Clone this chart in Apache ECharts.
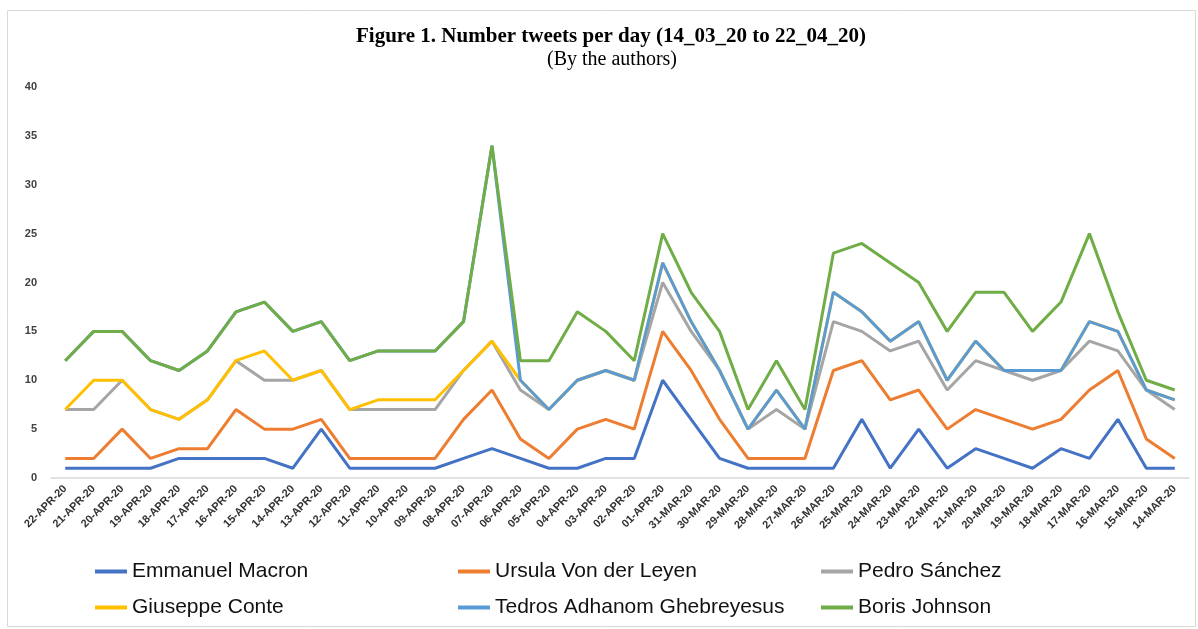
<!DOCTYPE html>
<html>
<head>
<meta charset="utf-8">
<script src="https://cdn.jsdelivr.net/npm/echarts@6/dist/echarts.min.js"></script>
<style>
  html, body { margin: 0; padding: 0; background: #fff; }
  #main { width: 1198px; height: 629px; }
</style>
</head>
<body>
<div id="main"></div>
<script>
// days, newest first (as in the figure)
var days = ['22-APR-20', '21-APR-20', '20-APR-20', '19-APR-20', '18-APR-20', '17-APR-20', '16-APR-20', '15-APR-20',
  '14-APR-20', '13-APR-20', '12-APR-20', '11-APR-20', '10-APR-20', '09-APR-20', '08-APR-20', '07-APR-20',
  '06-APR-20', '05-APR-20', '04-APR-20', '03-APR-20', '02-APR-20', '01-APR-20', '31-MAR-20', '30-MAR-20',
  '29-MAR-20', '28-MAR-20', '27-MAR-20', '26-MAR-20', '25-MAR-20', '24-MAR-20', '23-MAR-20', '22-MAR-20',
  '21-MAR-20', '20-MAR-20', '19-MAR-20', '18-MAR-20', '17-MAR-20', '16-MAR-20', '15-MAR-20', '14-MAR-20']

var macron = [1, 1, 1, 1, 2, 2, 2, 2, 1, 5, 1, 1, 1, 1, 2, 3, 2, 1, 1, 2, 2, 10, 6, 2, 1, 1, 1, 1, 6, 1, 5, 1, 3, 2, 1, 3, 2, 6, 1, 1]
var ursula = [2, 2, 5, 2, 3, 3, 7, 5, 5, 6, 2, 2, 2, 2, 6, 9, 4, 2, 5, 6, 5, 15, 11, 6, 2, 2, 2, 11, 12, 8, 9, 5, 7, 6, 5, 6, 9, 11, 4, 2]
var pedro = [7, 7, 10, 7, 6, 8, 12, 10, 10, 11, 7, 7, 7, 7, 11, 14, 9, 7, 10, 11, 10, 20, 15, 11, 5, 7, 5, 16, 15, 13, 14, 9, 12, 11, 10, 11, 14, 13, 9, 7]
var conte = [7, 10, 10, 7, 6, 8, 12, 13, 10, 11, 7, 8, 8, 8, 11, 14, 10, 7, 10, 11, 10, 22, 16, 11, 5, 9, 5, 19, 17, 14, 16, 10, 14, 11, 11, 11, 16, 15, 9, 8]
var tedros = [12, 15, 15, 12, 11, 13, 17, 18, 15, 16, 12, 13, 13, 13, 16, 34, 10, 7, 10, 11, 10, 22, 16, 11, 5, 9, 5, 19, 17, 14, 16, 10, 14, 11, 11, 11, 16, 15, 9, 8]
var boris = [12, 15, 15, 12, 11, 13, 17, 18, 15, 16, 12, 13, 13, 13, 16, 34, 12, 12, 17, 15, 12, 25, 19, 15, 7, 12, 7, 23, 24, 22, 20, 15, 19, 19, 15, 18, 25, 17, 10, 9]

var names = ['Emmanuel Macron', 'Ursula Von der Leyen', 'Pedro Sánchez', 'Giuseppe Conte', 'Tedros Adhanom Ghebreyesus', 'Boris Johnson']
var colors = ['#4472C4', '#ED7D31', '#A5A5A5', '#FFC000', '#5B9BD5', '#70AD47']
var values = [macron, ursula, pedro, conte, tedros, boris]

var chart = echarts.init(document.getElementById('main'))

// one legend per entry, laid out in a 3 x 2 grid like the original
var legendPos = [[90, 556], [453, 556], [816, 556], [90, 592], [453, 592], [816, 592]]
var legends = names.map(function (n, i) {
  return {
    data: [n],
    left: legendPos[i][0],
    top: legendPos[i][1],
    itemWidth: 32,
    itemHeight: 4,
    itemGap: 4,
    icon: 'rect',
    textStyle: { fontFamily: 'Liberation Sans Narrow, Liberation Sans', fontSize: 21, color: '#111' }
  }
})

var option = {
  backgroundColor: '#fff',
  animation: false,
  color: colors,
  title: [
    {
      text: 'Figure 1. Number tweets per day (14_03_20 to 22_04_20)',
      left: 606,
      top: 21,
      textAlign: 'center',
      textStyle: { fontFamily: 'Liberation Serif', fontWeight: 'bold', fontSize: 21, color: '#000' }
    },
    {
      text: '(By the authors)',
      left: 607,
      top: 45,
      textAlign: 'center',
      textStyle: { fontFamily: 'Liberation Serif', fontWeight: 'normal', fontSize: 20, color: '#000' }
    }
  ],
  legend: legends,
  graphic: [{
    type: 'rect',
    shape: { x: 7.5, y: 10.5, width: 1188, height: 616 },
    style: { fill: 'none', stroke: '#d9d9d9', lineWidth: 1 },
    silent: true
  }],
  grid: { left: 51, right: 9, top: 87, bottom: 151 },
  xAxis: {
    type: 'category',
    data: days,
    boundaryGap: true,
    axisLine: { lineStyle: { color: '#d9d9d9', width: 1.5 } },
    axisTick: { show: false },
    axisLabel: {
      interval: 0,
      rotate: 45,
      margin: 9,
      fontFamily: 'Liberation Sans Narrow, Liberation Sans',
      fontSize: 11,
      fontWeight: 'bold',
      color: '#333'
    }
  },
  yAxis: {
    type: 'value',
    min: 0,
    max: 40,
    interval: 5,
    splitLine: { show: false },
    axisLine: { show: false },
    axisTick: { show: false },
    axisLabel: { fontFamily: 'Liberation Sans', fontSize: 11, fontWeight: 'bold', color: '#404040', margin: 14 }
  },
  series: names.map(function (n, i) {
    return {
      name: n,
      type: 'line',
      data: values[i],
      symbol: 'none',
      lineStyle: { width: 3, color: colors[i] },
      itemStyle: { color: colors[i] }
    }
  })
}

chart.setOption(option)
</script>
</body>
</html>
